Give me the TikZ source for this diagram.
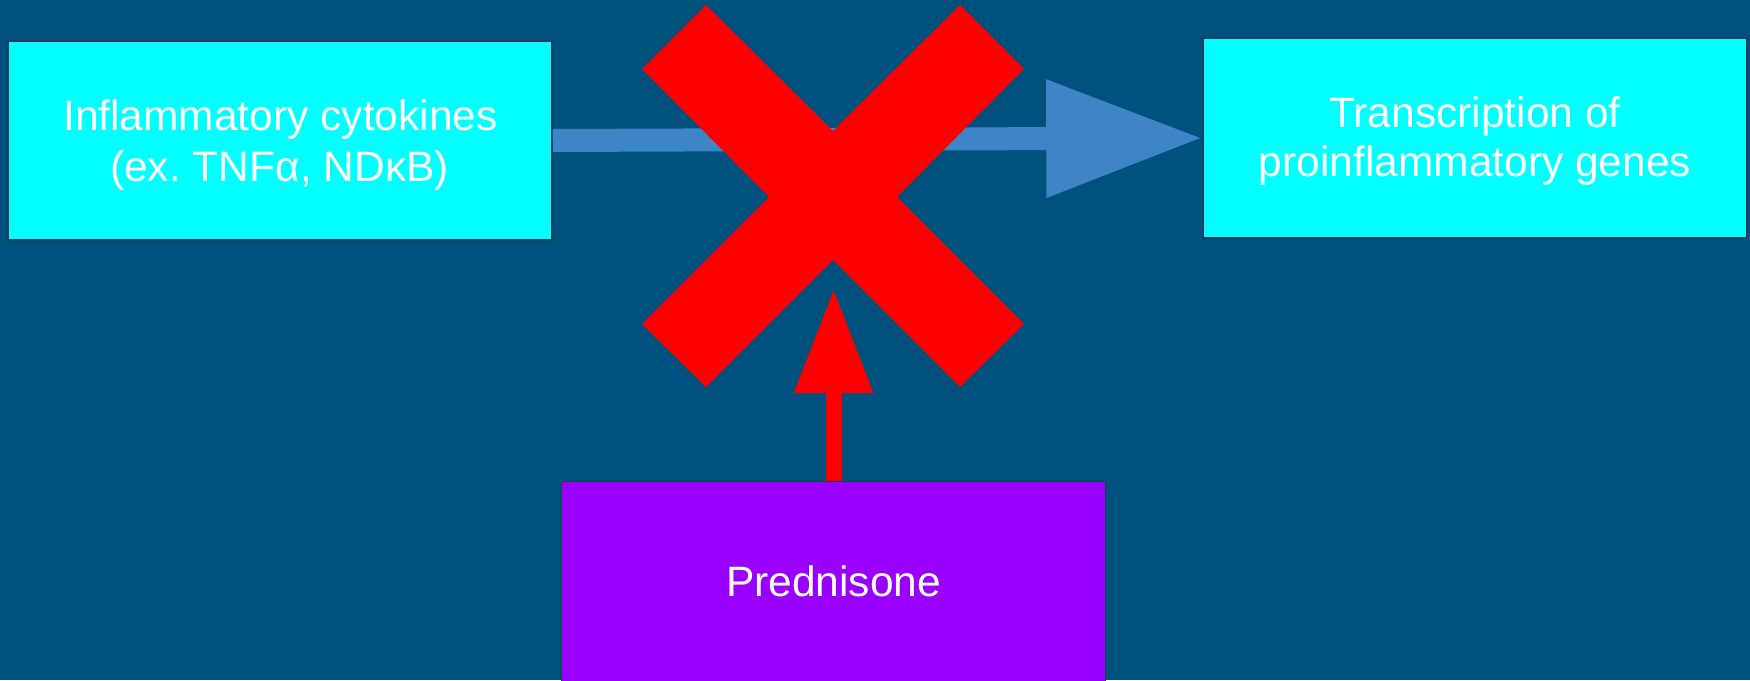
\documentclass[tikz,border=0pt]{standalone}
\usepackage{fontspec}
\setmainfont{Liberation Sans}
\usetikzlibrary{arrows.meta}
\frenchspacing
\definecolor{bgblue}{RGB}{0,82,126}
\definecolor{boxcyan}{RGB}{0,255,255}
\definecolor{predpurple}{RGB}{153,0,255}
\definecolor{arrowblue}{RGB}{61,133,198}
\definecolor{boxline}{RGB}{25,60,90}
\definecolor{xred}{RGB}{255,0,0}
\begin{document}
\begin{tikzpicture}[x=1pt,y=-1pt,
  infobox/.style={draw=boxline,line width=1.5pt,
    minimum width=544pt,minimum height=200pt,inner sep=0pt},
  boxtext/.style={text=white,anchor=base,inner sep=0pt,
    font=\fontsize{42.5}{50}\selectfont},
  flowarrow/.style={line width=23pt,arrowblue,
    -{Triangle[length=156pt,width=112pt]}},
  blockarrow/.style={line width=16pt,xred,
    -{Triangle[length=104pt,width=75pt]}}]
\useasboundingbox (0,0) rectangle (1750,680);
\fill[bgblue] (0,0) rectangle (1750,680);
\node[infobox,fill=boxcyan,minimum height=199pt] (cyto) at (280,140.5) {};
\node[boxtext] (cytoA) at (280.5,130) {Inflammatory cytokines};
\node[boxtext] (cytoB) at (279.5,181) {(ex. TNFα, NDκB)};
\node[infobox,fill=boxcyan] (trans) at (1475,138) {};
\node[boxtext] (transA) at (1475,127.7) {Transcription of};
\node[boxtext] (transB) at (1475,176.7) {proinflammatory genes};
\node[infobox,fill=predpurple] (pred) at (833.6,581.7) {};
\node[boxtext] (predT) at (833.6,596.7) {Prednisone};
\draw[flowarrow] (cyto.east) -- (trans.west);
\fill[xred] (706,5) -- (833,131) -- (960,5) -- (1024,69) -- (897,197)
  -- (1024,324) -- (960,387) -- (833,260) -- (706,387) -- (642,324)
  -- (769,197) -- (642,69) -- cycle;
\coordinate (redtip) at (833.6,289);
\draw[blockarrow] (pred.north) -- (redtip);
\end{tikzpicture}
\end{document}
